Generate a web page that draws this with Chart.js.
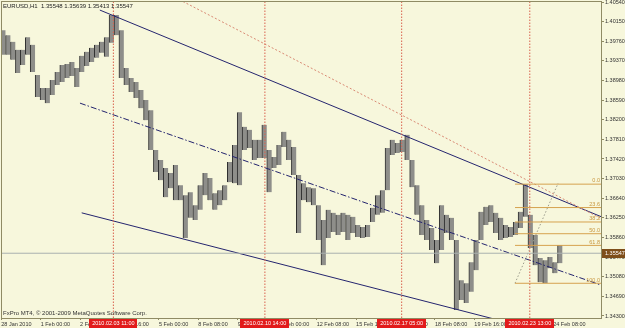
<!DOCTYPE html>
<html lang="en">
<head>
  <meta charset="UTF-8">
  <title>EURUSD,H1</title>
  <script src="https://cdn.jsdelivr.net/npm/chart.js"></script>
  <style>
    html, body { margin: 0; padding: 0; background: #F7F7DC; }
    canvas { display: block; }
  </style>
</head>
<body>
  <canvas id="chart" width="625" height="328"></canvas>

  <script>
    // one bar = 4 hourly candles, x axis counts hours from 28 Jan 16:00 (weekends skipped)
    const barHours = 4;
    const highs = [1.3998,1.3988,1.3975,1.3959,1.3959,1.3984,1.3969,1.3909,1.3883,1.3883,
      1.3899,1.3915,1.3929,1.3931,1.3935,1.3923,1.3947,1.3955,1.3963,1.3969,
      1.3975,1.3984,1.4028,1.4028,1.3998,1.3923,1.3903,1.3895,1.3879,1.3859,
      1.3839,1.3760,1.3740,1.3724,1.3714,1.3730,1.3690,1.3670,1.3676,1.3650,
      1.3690,1.3714,1.3704,1.3674,1.3680,1.3690,1.3736,1.3770,1.3835,1.3806,
      1.3800,1.3780,1.3780,1.3810,1.3760,1.3746,1.3770,1.3796,1.3780,1.3766,
      1.3710,1.3694,1.3686,1.3684,1.3650,1.3621,1.3641,1.3635,1.3631,1.3635,
      1.3631,1.3627,1.3611,1.3607,1.3611,1.3645,1.3670,1.3680,1.3764,1.3780,
      1.3774,1.3780,1.3790,1.3740,1.3690,1.3650,1.3621,1.3605,1.3581,1.3650,
      1.3631,1.3625,1.3581,1.3501,1.3495,1.3537,1.3581,1.3637,1.3647,1.3650,
      1.3635,1.3625,1.3611,1.3607,1.3617,1.3637,1.3692,1.3631,1.3591,1.3545,
      1.3541,1.3547,1.3537,1.3571];
    const lows = [1.3949,1.3949,1.3939,1.3913,1.3929,1.3949,1.3915,1.3865,1.3859,1.3853,
      1.3869,1.3889,1.3895,1.3903,1.3907,1.3885,1.3915,1.3927,1.3935,1.3943,
      1.3953,1.3945,1.3973,1.3988,1.3903,1.3889,1.3875,1.3863,1.3843,1.3819,
      1.3760,1.3716,1.3700,1.3666,1.3684,1.3660,1.3660,1.3585,1.3625,1.3621,
      1.3641,1.3670,1.3660,1.3641,1.3650,1.3660,1.3696,1.3694,1.3690,1.3760,
      1.3764,1.3740,1.3744,1.3744,1.3676,1.3724,1.3730,1.3766,1.3740,1.3710,
      1.3595,1.3660,1.3656,1.3650,1.3581,1.3531,1.3585,1.3597,1.3591,1.3597,
      1.3581,1.3595,1.3587,1.3585,1.3587,1.3617,1.3631,1.3635,1.3680,1.3750,
      1.3754,1.3756,1.3740,1.3686,1.3631,1.3591,1.3581,1.3561,1.3535,1.3561,
      1.3595,1.3581,1.3442,1.3462,1.3456,1.3478,1.3521,1.3581,1.3611,1.3617,
      1.3595,1.3581,1.3585,1.3587,1.3591,1.3605,1.3627,1.3565,1.3531,1.3497,
      1.3495,1.3525,1.3515,1.3535];

    const timeTicks = [0, 32, 64, 96, 128, 160, 192, 224, 256, 288, 320, 352, 384, 416, 448];
    const timeLabels = ['28 Jan 2010', '1 Feb 00:00', '2 Feb 08:00', '3 Feb 16:00', '5 Feb 00:00',
      '8 Feb 08:00', '9 Feb 16:00', '11 Feb 00:00', '12 Feb 08:00', '15 Feb 16:00',
      '17 Feb 00:00', '18 Feb 08:00', '19 Feb 16:00', '23 Feb 00:00', '24 Feb 08:00'];
    const priceTicks = [1.4054, 1.4015, 1.3976, 1.3937, 1.3898, 1.3859, 1.3820, 1.3781, 1.3742,
      1.3703, 1.3664, 1.3625, 1.3586, 1.3547, 1.3508, 1.3469, 1.3430];
    const priceLabels = ['1.40540', '1.40150', '1.39760', '1.39370', '1.38980', '1.38590', '1.38200',
      '1.37810', '1.37420', '1.37030', '1.36640', '1.36250', '1.35860', '1.35470', '1.35080',
      '1.34690', '1.34300'];

    const vlineHours = [91, 214, 325, 429];
    const vlineLabels = ['2010.02.03 11:00', '2010.02.10 14:00', '2010.02.17 05:00', '2010.02.23 13:00'];

    const fibLevels = [1.3692, 1.36455, 1.36168, 1.35935, 1.35703, 1.3495];
    const fibNames = ['0.0', '23.6', '38.2', '50.0', '61.8', '100.0'];
    const fibStart = 417;

    const upperLine = [[80, 1.4038], [487.3, 1.3627]];
    const middleLine = [[63.9, 1.3853], [487.3, 1.3491]];
    const lowerLine = [[65.3, 1.3635], [400, 1.3424]];
    const redTrend = [[147.5, 1.4055], [487.3, 1.3623]];
    const fibDiag = [[417, 1.3495], [452, 1.3694]];

    const lastPrice = 1.35547;
    const header = 'EURUSD,H1  1.35548 1.35639 1.35413 1.35547';
    const copyright = 'FxPro MT4, \u00A9 2001-2009 MetaQuotes Software Corp.';

    const xMin = -0.2, xMax = 486.8, yMin = 1.3426, yMax = 1.4054;
    const frame = '#8F8B64';
    const font = 'Liberation Sans, Arial, sans-serif';

    function seg(pts, color, dash, width) {
      return {
        type: 'line',
        data: pts.map(p => ({ x: p[0], y: p[1] })),
        borderColor: color,
        borderWidth: width || 1,
        borderDash: dash || [],
        pointRadius: 0,
        fill: false,
        tension: 0,
        order: 0
      };
    }

    const datasets = [];
    datasets.push({
      type: 'bar',
      data: highs.map((h, i) => ({ x: i * barHours + 1.5, y: [lows[i], h] })),
      backgroundColor: '#8E8E8A',
      borderColor: '#2E2E2E',
      borderWidth: { left: 1, right: 0, top: 0, bottom: 0 },
      borderSkipped: false,
      barThickness: 4.9,
      order: 10
    });
    datasets.push(seg([[xMin, lastPrice], [xMax, lastPrice]], '#A9B1AF'));
    vlineHours.forEach(h => datasets.push(seg([[h, yMin], [h, yMax]], '#D9624E', [1.5, 1.5])));
    fibLevels.forEach(v => datasets.push(seg([[fibStart, v], [xMax, v]], '#D6A24E')));
    datasets.push(seg(fibDiag, '#9C9C8C', [1.5, 2]));
    datasets.push(seg(redTrend, '#D98A74', [2, 2]));
    datasets.push(seg(upperLine, '#24246E'));
    datasets.push(seg(lowerLine, '#24246E'));
    datasets.push(seg(middleLine, '#24246E', [6, 2, 1.5, 2]));

    const decor = {
      id: 'decor',
      beforeDraw(chart) {
        const c = chart.ctx;
        c.save();
        c.fillStyle = '#F7F7DC';
        c.fillRect(0, 0, chart.width, chart.height);
        c.restore();
      },
      afterDraw(chart) {
        const c = chart.ctx, a = chart.chartArea;
        const xs = chart.scales.x, ys = chart.scales.y;
        c.save();
        c.strokeStyle = frame;
        c.lineWidth = 1;
        c.strokeRect(a.left + 0.5, a.top - 0.5, a.right - a.left, a.bottom - a.top + 1);

        // fibo level captions
        c.font = '5.5px ' + font;
        c.fillStyle = '#C8963E';
        c.textAlign = 'right';
        c.textBaseline = 'bottom';
        fibLevels.forEach((v, i) => c.fillText(fibNames[i], a.right - 1, ys.getPixelForValue(v) - 0.5));

        // time labels of the vertical lines
        c.textAlign = 'center';
        c.textBaseline = 'middle';
        vlineHours.forEach((h, i) => {
          const cx = xs.getPixelForValue(h);
          const w = c.measureText(vlineLabels[i]).width + 6;
          c.fillStyle = '#E21B1B';
          c.fillRect(Math.round(cx - w / 2), a.bottom + 1, Math.round(w), 9);
          c.fillStyle = '#FFFFFF';
          c.fillText(vlineLabels[i], cx, a.bottom + 5.5);
        });

        // current price box
        const py = ys.getPixelForValue(lastPrice);
        c.fillStyle = '#7E4E1A';
        c.fillRect(a.right + 1, Math.round(py - 4.5), chart.width - a.right - 1, 9);
        c.fillStyle = '#FFFFFF';
        c.textAlign = 'left';
        c.fillText(lastPrice.toFixed(5), a.right + 4, py);

        // header and copyright
        c.fillStyle = '#222222';
        c.font = '6px ' + font;
        c.textBaseline = 'top';
        c.fillText(header, a.left + 2, a.top + 1);
        c.fillStyle = '#333333';
        c.textBaseline = 'bottom';
        c.fillText(copyright, a.left + 2, a.bottom - 2);
        c.restore();
      }
    };

    new Chart(document.getElementById('chart'), {
      type: 'bar',
      data: { datasets },
      options: {
        responsive: false,
        animation: false,
        devicePixelRatio: 1,
        layout: { padding: { left: 1, top: 2, right: 0, bottom: 0 } },
        plugins: { legend: { display: false }, tooltip: { enabled: false } },
        scales: {
          x: {
            type: 'linear',
            offset: false,
            min: xMin,
            max: xMax,
            afterBuildTicks(s) { s.ticks = timeTicks.map(v => ({ value: v })); },
            afterFit(s) { s.height = 10; s.paddingLeft = 0; s.paddingRight = 0; },
            grid: { offset: false, drawOnChartArea: false, tickLength: 2, color: frame },
            border: { color: frame },
            ticks: {
              autoSkip: false,
              maxRotation: 0,
              align: 'start',
              padding: 1,
              color: '#333333',
              font: { family: font, size: 5.5 },
              callback: (v, i) => timeLabels[i]
            }
          },
          y: {
            position: 'right',
            min: yMin,
            max: yMax,
            afterBuildTicks(s) { s.ticks = priceTicks.map(v => ({ value: v })); },
            afterFit(s) { s.width = 24; s.paddingTop = 0; s.paddingBottom = 0; },
            grid: { drawOnChartArea: false, tickLength: 3, color: frame },
            border: { color: frame },
            ticks: {
              padding: 1,
              color: '#333333',
              font: { family: font, size: 5.5 },
              callback: (v, i) => priceLabels[i]
            }
          }
        }
      },
      plugins: [decor]
    });
  </script>
</body>
</html>
